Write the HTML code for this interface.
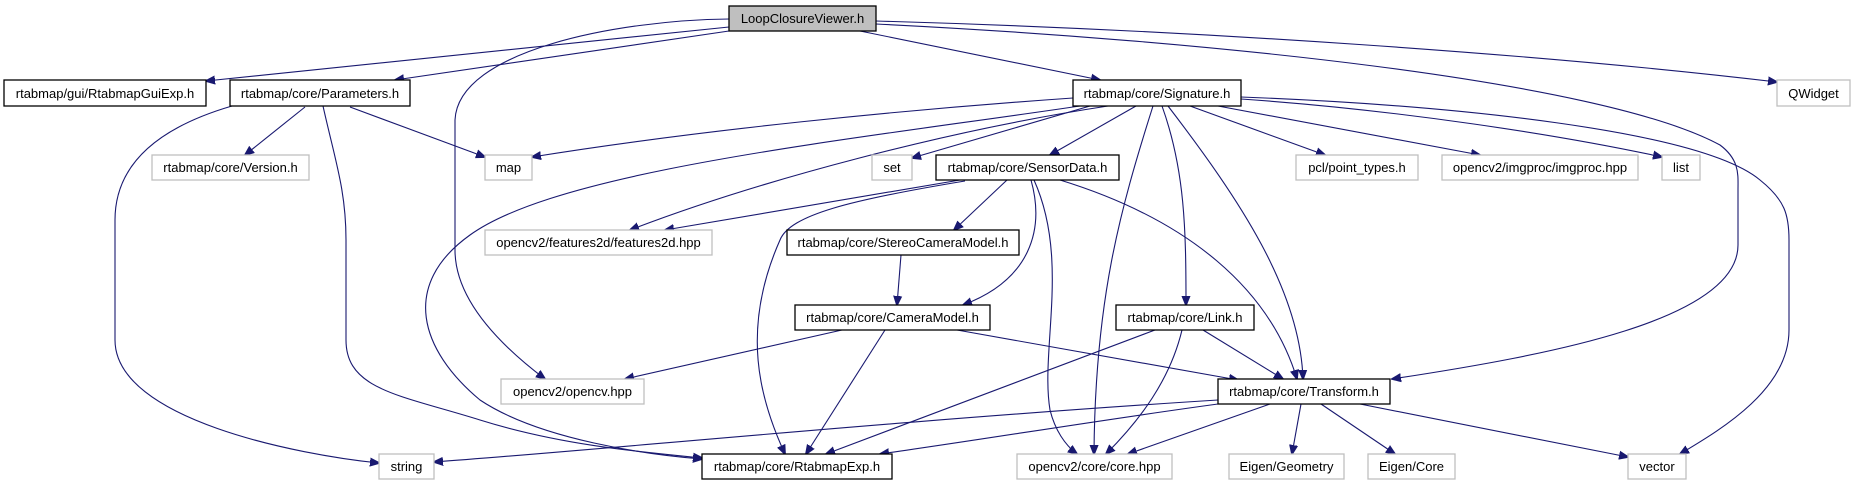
<!DOCTYPE html>
<html><head><meta charset="utf-8"><style>
html,body{margin:0;padding:0;background:#fff;}
svg{display:block;}
text{font-family:"Liberation Sans",sans-serif;font-size:13px;fill:#000;text-anchor:middle;}
.b{fill:#fff;stroke:#000;stroke-width:1.3;}
.g{fill:#fff;stroke:#bfbfbf;stroke-width:1.3;}
.e{fill:none;stroke:#191970;stroke-width:1.1;marker-end:url(#a);}
</style></head><body>
<svg width="1855" height="485" viewBox="0 0 1855 485" xmlns="http://www.w3.org/2000/svg">
<defs><marker id="a" viewBox="0 0 10 10" refX="9" refY="5" markerWidth="10" markerHeight="10" markerUnits="userSpaceOnUse" orient="auto"><path d="M0,1 L10,5 L0,9 z" fill="#191970" stroke="#191970"/></marker></defs>

<!-- edges -->
<path class="e" d="M729,27 L206,81"/>
<path class="e" d="M729,31 L395,80"/>
<path class="e" d="M729,19 C620,20 458,50 455,120 L455,250 C455,300 500,345 545,379"/>
<path class="e" d="M860,31 L1100,80"/>
<path class="e" d="M876,21 C1200,30 1550,55 1777,82"/>
<path class="e" d="M876,24 C1200,40 1600,80 1720,145 C1740,160 1738,175 1738,190 L1738,245 C1738,320 1550,355 1392,379"/>
<path class="e" d="M1073,98 C900,110 700,130 532,157"/>
<path class="e" d="M1090,106 L912,158"/>
<path class="e" d="M1108,106 C950,130 760,180 630,230"/>
<path class="e" d="M1080,106 C850,140 560,170 470,235 C400,285 420,350 480,400 C540,440 650,455 702,459"/>
<path class="e" d="M1136,106 L1050,155"/>
<path class="e" d="M1153,106 C1120,210 1095,300 1094,454"/>
<path class="e" d="M1162,106 C1185,170 1186,230 1186,305"/>
<path class="e" d="M1168,106 C1240,200 1300,290 1303,379"/>
<path class="e" d="M1190,106 L1325,155"/>
<path class="e" d="M1218,106 L1480,155"/>
<path class="e" d="M1241,99 C1400,110 1560,135 1662,157"/>
<path class="e" d="M1241,97 C1450,105 1700,130 1760,180 C1785,200 1789,215 1789,240 L1789,330 C1789,390 1720,430 1680,454"/>
<path class="e" d="M960,180 L665,230"/>
<path class="e" d="M1007,180 L954,230"/>
<path class="e" d="M965,181 C850,200 790,215 780,240 C740,330 760,400 785,454"/>
<path class="e" d="M1031,180 C1045,230 1030,280 963,305"/>
<path class="e" d="M1034,180 C1070,260 1040,350 1050,410 C1055,430 1065,445 1077,454"/>
<path class="e" d="M1060,180 C1190,220 1270,290 1297,379"/>
<path class="e" d="M901,255 L897,305"/>
<path class="e" d="M842,330 L625,379"/>
<path class="e" d="M885,330 L806,454"/>
<path class="e" d="M957,330 L1238,380"/>
<path class="e" d="M1155,330 L826,454"/>
<path class="e" d="M1182,330 C1170,380 1140,420 1106,454"/>
<path class="e" d="M1203,330 L1283,379"/>
<path class="e" d="M1218,400 C900,420 600,450 434,462"/>
<path class="e" d="M1218,404 C1100,420 980,440 880,454"/>
<path class="e" d="M1270,404 L1128,454"/>
<path class="e" d="M1301,404 L1292,454"/>
<path class="e" d="M1321,404 L1395,454"/>
<path class="e" d="M1360,404 L1628,457"/>
<path class="e" d="M232,106 C150,130 115,170 115,220 L115,340 C115,420 300,455 379,463"/>
<path class="e" d="M305,107 L245,155"/>
<path class="e" d="M323,106 C335,160 346,190 346,240 L346,340 C346,390 400,395 480,420 C560,445 640,452 702,458"/>
<path class="e" d="M350,107 L485,157"/>

<!-- nodes -->
<rect x="729" y="6" width="147" height="25" fill="#bfbfbf" stroke="#000" stroke-width="1.3"/><text x="802.5" y="23">LoopClosureViewer.h</text>
<rect class="b" x="4" y="80" width="202" height="26"/><text x="105" y="98">rtabmap/gui/RtabmapGuiExp.h</text>
<rect class="b" x="230" y="80" width="180" height="26"/><text x="320" y="98">rtabmap/core/Parameters.h</text>
<rect class="b" x="1073" y="80" width="168" height="26"/><text x="1157" y="98">rtabmap/core/Signature.h</text>
<rect class="g" x="1777" y="80" width="73" height="26"/><text x="1813.5" y="98">QWidget</text>
<rect class="g" x="152" y="155" width="157" height="25"/><text x="230.5" y="172">rtabmap/core/Version.h</text>
<rect class="g" x="485" y="155" width="47" height="25"/><text x="508.5" y="172">map</text>
<rect class="g" x="872" y="155" width="40" height="25"/><text x="892" y="172">set</text>
<rect class="b" x="936" y="155" width="183" height="25"/><text x="1027.5" y="172">rtabmap/core/SensorData.h</text>
<rect class="g" x="1296" y="155" width="122" height="25"/><text x="1357" y="172">pcl/point_types.h</text>
<rect class="g" x="1442" y="155" width="196" height="25"/><text x="1540" y="172">opencv2/imgproc/imgproc.hpp</text>
<rect class="g" x="1662" y="155" width="38" height="25"/><text x="1681" y="172">list</text>
<rect class="g" x="485" y="230" width="227" height="25"/><text x="598.5" y="247">opencv2/features2d/features2d.hpp</text>
<rect class="b" x="787" y="230" width="232" height="25"/><text x="903" y="247">rtabmap/core/StereoCameraModel.h</text>
<rect class="b" x="795" y="305" width="195" height="25"/><text x="892.5" y="322">rtabmap/core/CameraModel.h</text>
<rect class="b" x="1116" y="305" width="138" height="25"/><text x="1185" y="322">rtabmap/core/Link.h</text>
<rect class="g" x="501" y="379" width="143" height="25"/><text x="572.5" y="396">opencv2/opencv.hpp</text>
<rect class="b" x="1218" y="379" width="172" height="25"/><text x="1304" y="396">rtabmap/core/Transform.h</text>
<rect class="g" x="379" y="454" width="55" height="25"/><text x="406.5" y="471">string</text>
<rect class="b" x="702" y="454" width="190" height="25"/><text x="797" y="471">rtabmap/core/RtabmapExp.h</text>
<rect class="g" x="1017" y="454" width="155" height="25"/><text x="1094.5" y="471">opencv2/core/core.hpp</text>
<rect class="g" x="1229" y="454" width="115" height="25"/><text x="1286.5" y="471">Eigen/Geometry</text>
<rect class="g" x="1368" y="454" width="87" height="25"/><text x="1411.5" y="471">Eigen/Core</text>
<rect class="g" x="1628" y="454" width="58" height="25"/><text x="1657" y="471">vector</text>
</svg>
</body></html>
